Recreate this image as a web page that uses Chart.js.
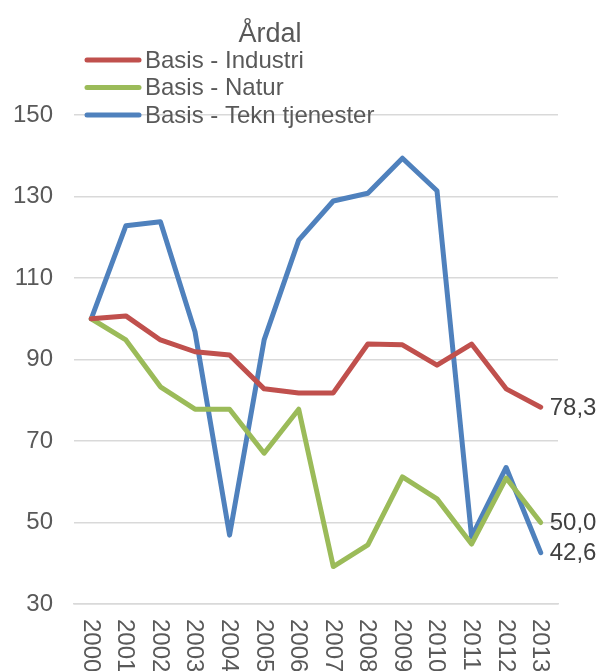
<!DOCTYPE html>
<html>
<head>
<meta charset="utf-8">
<script src="https://cdn.jsdelivr.net/npm/chart.js@4/dist/chart.umd.min.js"></script>
<style>
  html, body { margin: 0; padding: 0; background: #fff; }
  #wrap { width: 601px; height: 671px; }
</style>
</head>
<body>
<div id="wrap"><canvas id="myChart" width="601" height="671"></canvas></div>
<script>
// data
var years = ["2000", "2001", "2002", "2003", "2004", "2005", "2006", "2007", "2008", "2009", "2010", "2011", "2012", "2013"];
var industri = [100, 100.7, 94.8, 91.9, 91.1, 82.8, 81.8, 81.8, 93.8, 93.6, 88.6, 93.8, 82.8, 78.3];
var natur = [100, 94.8, 83.3, 77.8, 77.8, 67.0, 77.8, 39.2, 44.5, 61.2, 55.8, 44.7, 60.9, 50.0];
var tekn = [100, 122.8, 123.8, 96.8, 46.9, 94.8, 119.3, 128.9, 130.8, 139.4, 131.4, 46.5, 63.5, 42.6];
var seriesNames = ["Basis - Industri", "Basis - Natur", "Basis - Tekn tjenester"];
var seriesColors = ["#c0504d", "#9bbb59", "#4f81bd"];
var endLabels = ["78,3", "50,0", "42,6"];
var chartTitle = "Årdal";

var FONT = "'Liberation Sans', Arial, sans-serif";
Chart.defaults.font.family = FONT;

// title, legend, rotated year labels and end values drawn on top
var extras = {
	id: 'extras',
	afterDraw: function(chart) {
		var ctx = chart.ctx;
		var xs = chart.scales.x;
		ctx.save();

		// title
		ctx.fillStyle = "#595959";
		ctx.font = "27px " + FONT;
		ctx.textAlign = "center";
		ctx.textBaseline = "alphabetic";
		ctx.fillText(chartTitle, 270, 42);

		// legend
		ctx.font = "24px " + FONT;
		ctx.textAlign = "left";
		ctx.textBaseline = "middle";
		for (var i = 0; i < seriesNames.length; i++) {
			var ly = 60 + i * 27.5;
			ctx.strokeStyle = seriesColors[i];
			ctx.lineWidth = 5;
			ctx.lineCap = "round";
			ctx.beginPath();
			ctx.moveTo(87, ly);
			ctx.lineTo(139, ly);
			ctx.stroke();
			ctx.fillStyle = "#595959";
			ctx.fillText(seriesNames[i], 145, ly + 1);
		}

		// year labels, turned clockwise
		ctx.fillStyle = "#595959";
		ctx.font = "24px " + FONT;
		for (var j = 0; j < years.length; j++) {
			var px = xs.getPixelForValue(j);
			ctx.save();
			ctx.translate(px - 1, 619);
			ctx.rotate(Math.PI / 2);
			ctx.textAlign = "left";
			ctx.textBaseline = "middle";
			ctx.fillText(years[j], 0, 0);
			ctx.restore();
		}

		// end values
		ctx.fillStyle = "#404040";
		ctx.textAlign = "left";
		ctx.textBaseline = "middle";
		for (var k = 0; k < chart.data.datasets.length; k++) {
			var pts = chart.getDatasetMeta(k).data;
			var last = pts[pts.length - 1];
			ctx.fillText(endLabels[k], last.x + 9, last.y + 1);
		}
		ctx.restore();
	}
};

new Chart("myChart", {
	type: "line",
	data: {
		labels: years,
		datasets: [{
			label: seriesNames[0],
			data: industri,
			borderColor: seriesColors[0],
			backgroundColor: seriesColors[0],
			borderWidth: 5,
			pointRadius: 0,
			tension: 0,
			borderCapStyle: "round",
			borderJoinStyle: "round"
		},
		{
			label: seriesNames[1],
			data: natur,
			borderColor: seriesColors[1],
			backgroundColor: seriesColors[1],
			borderWidth: 5,
			pointRadius: 0,
			tension: 0,
			borderCapStyle: "round",
			borderJoinStyle: "round"
		},
		{
			label: seriesNames[2],
			data: tekn,
			borderColor: seriesColors[2],
			backgroundColor: seriesColors[2],
			borderWidth: 5,
			pointRadius: 0,
			tension: 0,
			borderCapStyle: "round",
			borderJoinStyle: "round"
		}]
	},
	options: {
		responsive: false,
		animation: false,
		events: [],
		layout: {
			padding: { top: 115, right: 43, left: 0, bottom: 0 }
		},
		scales: {
			x: {
				offset: true,
				grid: { display: false },
				border: { display: true, color: "#d9d9d9", width: 1.5 },
				ticks: { display: false },
				afterFit: function(s) { s.height = 67; }
			},
			y: {
				min: 30,
				max: 150,
				ticks: {
					stepSize: 20,
					color: "#595959",
					font: { size: 24 },
					padding: 21
				},
				grid: { color: "#d9d9d9", lineWidth: 1.5, drawTicks: false },
				border: { display: false },
				afterFit: function(s) { s.width = 74; }
			}
		},
		plugins: {
			legend: { display: false },
			title: { display: false },
			tooltip: { enabled: false }
		}
	},
	plugins: [extras]
});
</script>
</body>
</html>
